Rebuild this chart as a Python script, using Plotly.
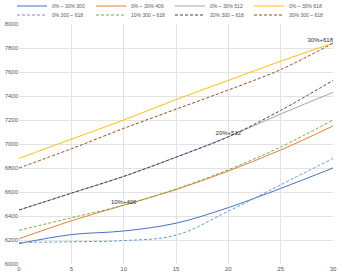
import plotly.graph_objects as go

x_vals = [0, 5, 10, 15, 20, 25, 30]

s300 = [6170, 6245, 6275, 6340, 6470, 6630, 6800]
s406 = [6210, 6360, 6490, 6620, 6775, 6950, 7150]
s512 = [6450, 6590, 6730, 6890, 7060, 7250, 7430]
s618 = [6880, 7040, 7200, 7370, 7530, 7690, 7840]

d0 = [6180, 6185, 6195, 6240, 6440, 6660, 6880]
d10 = [6280, 6385, 6490, 6625, 6785, 6975, 7200]
d20 = [6450, 6590, 6730, 6890, 7060, 7280, 7530]
d30 = [6800, 6960, 7130, 7290, 7450, 7620, 7840]

solid_names = ["0% ~ 30% 300", "0% ~ 30% 406", "0% ~ 30% 512", "0% ~ 30% 618"]
dash_names = ["0% 300 ~ 618", "10% 300 ~ 618", "20% 300 ~ 618", "30% 300 ~ 618"]
point_labels = {1: ("10%+406", 2), 2: ("20%+512", 4), 3: ("30%+618", 6)}

y_ticks = list(range(6000, 8001, 200))
x_ticks = [0, 5, 10, 15, 20, 25, 30]

solid_colors = ["#4472C4", "#ED7D31", "#A5A5A5", "#FFC000"]
dash_colors = ["#5B9BD5", "#70AD47", "#264478", "#9E480E"]

FONT = "Liberation Sans Narrow, Liberation Sans, Arial"

fig = go.Figure()
for name, ys, col in zip(solid_names, [s300, s406, s512, s618], solid_colors):
    fig.add_trace(go.Scatter(x=x_vals, y=ys, name=name, mode="lines", legend="legend",
                             line=dict(color=col, width=1, shape="spline")))

for i, (name, ys, col) in enumerate(zip(dash_names, [d0, d10, d20, d30], dash_colors)):
    texts = [""] * len(ys)
    pos = ["top center"] * len(ys)
    if i in point_labels:
        t, idx = point_labels[i]
        texts[idx] = t
        if idx == len(ys) - 1:
            pos[idx] = "top left"
    fig.add_trace(go.Scatter(x=x_vals, y=ys, name=name, mode="lines+text", legend="legend2",
                             text=texts, textposition=pos,
                             textfont=dict(size=6, color="#303030", family=FONT),
                             line=dict(color=col, width=1, dash="3px,2px", shape="spline")))

leg_common = dict(orientation="h", x=0.5, xanchor="center", xref="container",
                  yref="container", yanchor="middle", font=dict(size=5, color="#595959"),
                  itemwidth=30, tracegroupgap=0, traceorder="normal",
                  entrywidth=34, entrywidthmode="pixels",
                  bgcolor="rgba(0,0,0,0)", borderwidth=0)

fig.update_layout(
    width=340, height=278,
    margin=dict(l=19, r=7, t=24, b=14, autoexpand=False),
    paper_bgcolor="white", plot_bgcolor="white",
    font=dict(family=FONT, size=6, color="#595959"),
    showlegend=True,
    legend=dict(y=1 - 6 / 278, **leg_common),
    legend2=dict(y=1 - 15 / 278, **leg_common),
    xaxis=dict(range=[0, 30], tickvals=x_ticks, showgrid=True, gridcolor="#E3E3E3",
               gridwidth=1, zeroline=False, showline=False, ticks="",
               tickfont=dict(size=6, color="#595959")),
    yaxis=dict(range=[6000, 8000], tickvals=y_ticks, showgrid=True, gridcolor="#E3E3E3",
               gridwidth=1, zeroline=False, showline=False, ticks="",
               tickfont=dict(size=6, color="#595959")),
)

fig.write_html("out.html")
